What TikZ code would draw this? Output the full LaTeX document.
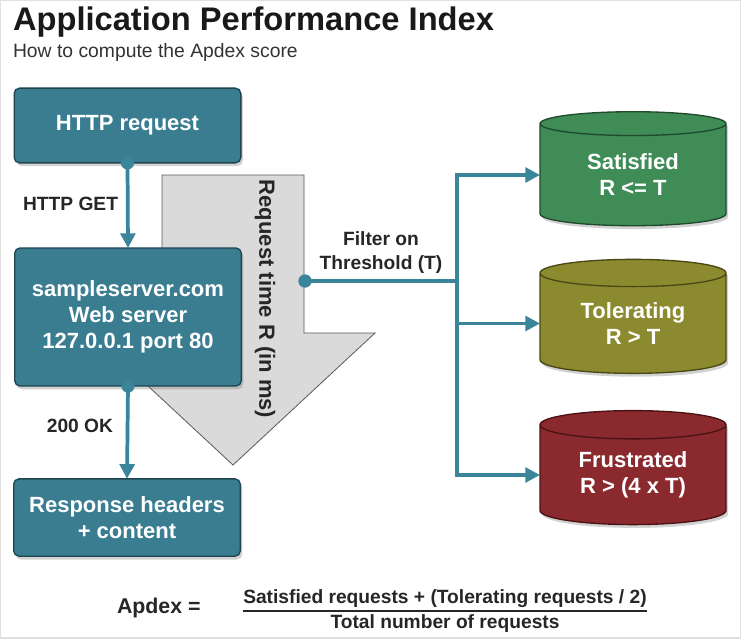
\documentclass[tikz,border=0pt]{standalone}
\usepackage{fontspec}
\setmainfont{Liberation Sans}
\usetikzlibrary{shapes.geometric,arrows.meta,shadows,positioning}

\definecolor{boxteal}{HTML}{3A7D91}
\definecolor{boxedge}{HTML}{1E4450}
\definecolor{lineteal}{HTML}{3B859B}
\definecolor{satgreen}{HTML}{3F8C57}
\definecolor{satedge}{HTML}{1F4A2C}
\definecolor{tololive}{HTML}{8C8A2E}
\definecolor{toledge}{HTML}{4A4815}
\definecolor{frured}{HTML}{8A2A2E}
\definecolor{fruedge}{HTML}{4A1215}
\definecolor{arrowgray}{HTML}{DADADA}

\begin{document}
\begin{tikzpicture}[x=0.75pt, y=-0.75pt,
  every node/.style={inner sep=0pt, outer sep=0pt},
  box/.style={rectangle, rounded corners=4pt, draw=boxedge, line width=1pt, fill=boxteal,
    text=white, font=\bfseries\fontsize{16.5}{19.5}\selectfont, align=center,
    minimum width=170pt, drop shadow={opacity=0.35, shadow xshift=1.5pt, shadow yshift=-2.5pt}},
  drum/.style={cylinder, shape border rotate=90, aspect=0.26, line width=1pt,
    minimum width=139.5pt, minimum height=85.5pt, text=white,
    font=\bfseries\fontsize{16.5}{19.5}\selectfont, align=center,
    drop shadow={opacity=0.35, shadow xshift=1.5pt, shadow yshift=-2.5pt}},
  link/.style={draw=lineteal, line width=2.8pt, -{Triangle[length=11pt,width=11pt]}},
  dot/.style={circle, fill=lineteal, minimum size=10pt},
  lbl/.style={font=\bfseries\fontsize{14.4}{17.5}\selectfont, text=black!85, align=center}]

% frame
\useasboundingbox (0,0) rectangle (741,638);
\draw[black!12, line width=1.5pt, fill=white] (0,0) rectangle (741,638);

% title
\node[anchor=base west, font=\bfseries\fontsize{24.5}{28}\selectfont, text=black!90] (title) at (13,31) {Application Performance Index};
\node[anchor=base west, font=\fontsize{14.5}{17}\selectfont, text=black!80] (subtitle) at (13,58) {How to compute the Apdex score};

% request time arrow
\draw[draw=black!65, fill=arrowgray, line width=0.6pt] (162,175) -- (304,175) -- (304,333) -- (375,333) -- (233,465) -- (91,333) -- (162,333) -- cycle;
\node[rotate=-90, font=\bfseries\fontsize{16.5}{19.5}\selectfont, text=black!85] (rtime) at (265,299) {Request time R (in ms)};

% left column
\node[box, minimum height=56pt] (req) at (127.5,125.5) {HTTP request};
\node[box, minimum height=103.5pt] (srv) at (128,317) {sampleserver.com\\Web server\\127.0.0.1 port 80};
\node[box, minimum height=58pt] (resp) at (127,517.5) {Response headers\\+ content};

\node[dot] (getdot) at (req.south) {};
\draw[link] (getdot.center) -- (srv.north);
\node[lbl, anchor=base east] (getlbl) at (118,210) {HTTP GET};

\node[dot] (okdot) at (srv.south) {};
\draw[link] (okdot.center) -- (resp.north);
\node[lbl, anchor=base east] (oklbl) at (113,432) {200 OK};

% buckets
\node[drum, fill=satgreen, draw=satedge] (sat) at (633,175) {Satisfied\\R <= T};
\node[drum, fill=tololive, draw=toledge] (tol) at (633,323.5) {Tolerating\\R > T};
\node[drum, fill=frured, draw=fruedge] (fru) at (633,475) {Frustrated\\R > (4 x T)};

\node[dot] (tdot) at (305,281) {};
\coordinate (bus) at (457,281);
\draw[draw=lineteal, line width=2.8pt] (tdot.center) -- (bus)
  node[lbl, midway, above=6pt] (filter) {Filter on\\Threshold (T)};
\draw[link] (bus) |- (sat.west);
\draw[link] (bus) |- (tol.west);
\draw[link] (bus) |- (fru.west);

% formula
\node[anchor=base west, font=\bfseries\fontsize{16}{19}\selectfont, text=black!85] (apdex) at (117,613) {Apdex =};
\node[lbl, anchor=base] (num) at (445,603) {Satisfied requests + (Tolerating requests / 2)};
\node[lbl, anchor=base] (den) at (445,628) {Total number of requests};
\draw[line width=1.5pt, black!85] ([yshift=-6pt]num.base west) -- ([yshift=-6pt]num.base east);
\end{tikzpicture}
\end{document}
